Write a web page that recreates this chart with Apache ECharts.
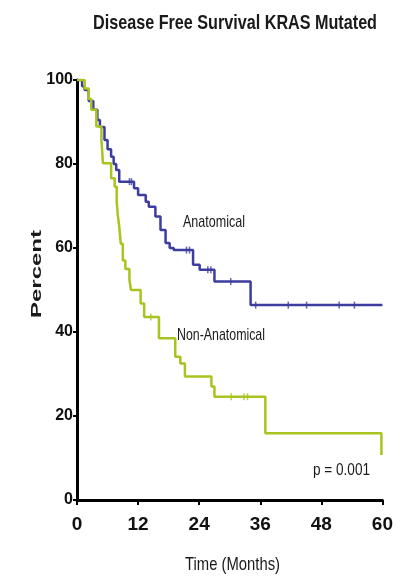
<!DOCTYPE html>
<html>
<head>
<meta charset="utf-8">
<script src="https://cdn.jsdelivr.net/npm/echarts@6/dist/echarts.min.js"></script>
<style>
  html, body { margin: 0; padding: 0; background: #fff; }
  #main { width: 396px; height: 580px; }
</style>
</head>
<body>
<div id="main"></div>
<script>
// Kaplan-Meier steps: [month, percent after the drop]
var anatomical = [
  [0, 100], [1.0, 98.5], [1.5, 97.6], [2.3, 95], [3.2, 92.9], [4.0, 90.5],
  [4.5, 88.8], [5.4, 85.7], [6.0, 83.5], [6.7, 81.7], [7.2, 80], [7.7, 78.6],
  [8.3, 75.8], [11.2, 74.2], [12.0, 72.6], [13.5, 71], [14.1, 69.8],
  [15.4, 67.5], [16.4, 64.3], [17.4, 61.2], [18.2, 60], [19.0, 59.5],
  [22.8, 56], [24.1, 54.8], [27.0, 52], [34.1, 46.4], [60, 46.4]
]
var nonAnatomical = [
  [0, 100], [1.5, 98], [2.3, 95.5], [2.8, 92.9], [3.8, 88.9], [4.8, 85.7],
  [5.1, 80.2], [6.7, 76.6], [7.4, 74.6], [7.8, 71], [8.0, 68], [8.3, 65.1],
  [8.6, 61], [9.0, 57], [9.5, 55], [10.3, 52.4], [10.6, 50], [12.5, 46.8],
  [13.2, 43.6], [16.1, 38.5], [19.3, 34.1], [20.3, 32.5], [21.2, 29.4],
  [26.4, 27], [27.0, 24.6], [37.0, 15.9], [59.8, 10.7]
]
// censored observations
var anatomicalCensor = [
  [10.3, 75.8], [10.7, 75.8], [21.5, 59.5], [22.1, 59.5], [25.7, 54.8],
  [26.3, 54.8], [30.2, 52], [35.1, 46.4], [41.5, 46.4], [45.1, 46.4],
  [51.5, 46.4], [54.5, 46.4]
]
var nonAnatomicalCensor = [
  [14.5, 43.6], [30.3, 24.6], [32.8, 24.6], [33.5, 24.6]
]
var xTicks = [0, 12, 24, 36, 48, 60]
var yTicks = [0, 20, 40, 60, 80, 100]

var blue = '#3c3d9f'
var green = '#a8c41e'
var sans = '"Liberation Sans", Arial, sans-serif'

// the picture is squeezed sideways, so texts get a horizontal scale to fit their width
var ctx = document.createElement('canvas').getContext('2d')
var fit = function(text, font, width) {
    ctx.font = font
    return width / ctx.measureText(text).width
}

var label = function(text, font, x, y, width, align) {
    return {
        type: 'text',
        x: x,
        y: y,
        scaleX: fit(text, font, width),
        style: {
            text: text, font: font, fill: '#1a1a1a',
            textAlign: align || 'left', textVerticalAlign: 'middle'
        }
    }
}

var myChart = echarts.init(document.querySelector('#main'))

var censorSeries = function(data, color) {
    return {
        type: 'scatter',
        data: data,
        symbol: 'rect',
        symbolSize: [1.5, 7],
        itemStyle: { color: color },
        silent: true,
        z: 3
    }
}

var titleFont = 'bold 21px ' + sans
var percentFont = 'bold 15px ' + sans
var timeFont = '19px ' + sans

var option = {
    backgroundColor: '#fff',
    animation: false,
    grid: { left: 77, right: 8, top: 80, bottom: 80 },
    xAxis: {
        type: 'value',
        min: 0,
        max: 60,
        interval: 12,
        axisLine: { lineStyle: { color: '#000', width: 3 } },
        axisTick: { show: true, length: 5, lineStyle: { color: '#000', width: 2 } },
        axisLabel: {
            fontFamily: sans, fontSize: 19, fontWeight: 'bold', color: '#111', margin: 15,
            formatter: function(v) { return xTicks.indexOf(v) >= 0 ? String(v) : '' }
        },
        splitLine: { show: false }
    },
    yAxis: {
        type: 'value',
        min: 0,
        max: 100,
        interval: 20,
        axisLine: { show: true, lineStyle: { color: '#000', width: 3 } },
        axisTick: { show: true, length: 4, lineStyle: { color: '#000', width: 2 } },
        axisLabel: {
            fontFamily: sans, fontSize: 16, fontWeight: 'bold', color: '#111', margin: 4,
            formatter: function(v) { return yTicks.indexOf(v) >= 0 ? String(v) : '' }
        },
        splitLine: { show: false }
    },
    series: [
        {
            name: 'Anatomical',
            type: 'line',
            step: 'end',
            data: anatomical,
            symbol: 'none',
            lineStyle: { color: blue, width: 2.5 },
            z: 2
        },
        {
            name: 'Non-Anatomical',
            type: 'line',
            step: 'end',
            data: nonAnatomical,
            symbol: 'none',
            lineStyle: { color: green, width: 2.5 },
            z: 2
        },
        censorSeries(anatomicalCensor, blue),
        censorSeries(nonAnatomicalCensor, green)
    ],
    graphic: [
        label('Disease Free Survival KRAS Mutated', titleFont, 93, 23, 284),
        label('Time (Months)', timeFont, 185, 565, 95),
        {
            type: 'text',
            x: 37,
            y: 274,
            rotation: Math.PI / 2,
            scaleX: fit('Percent', percentFont, 88),
            style: {
                text: 'Percent', font: percentFont, fill: '#1a1a1a',
                textAlign: 'center', textVerticalAlign: 'middle'
            }
        },
        label('Anatomical', '17px ' + sans, 183, 222, 62),
        label('Non-Anatomical', '17px ' + sans, 177, 335, 88),
        label('p = 0.001', '16px ' + sans, 313, 471, 57)
    ]
}

myChart.setOption(option)
</script>
</body>
</html>
